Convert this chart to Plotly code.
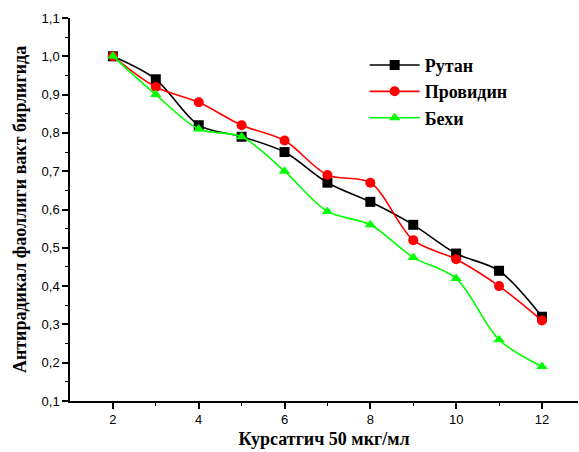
import plotly.graph_objects as go

x_vals = [2, 3, 4, 5, 6, 7, 8, 9, 10, 11, 12]
rutan = [1.0, 0.94, 0.82, 0.79, 0.75, 0.67, 0.62, 0.56, 0.485, 0.44, 0.32]
providin = [1.0, 0.92, 0.88, 0.82, 0.78, 0.69, 0.67, 0.52, 0.47, 0.40, 0.31]
behi = [1.0, 0.90, 0.81, 0.79, 0.70, 0.595, 0.56, 0.475, 0.42, 0.26, 0.19]
names = ["Рутан", "Провидин", "Бехи"]
colors = ["#000000", "#ff0000", "#00ff00"]
symbols = ["square", "circle", "triangle-up"]

fig = go.Figure()
for name, ys, c, s in zip(names, [rutan, providin, behi], colors, symbols):
    fig.add_trace(go.Scatter(
        x=x_vals, y=ys, name="<b>" + name + "</b>", mode="lines+markers",
        line=dict(color=c, width=1.6, shape="spline", smoothing=0.9),
        marker=dict(color=c, symbol=s, size=10),
    ))

fig.update_layout(
    width=579, height=452,
    margin=dict(l=70, r=1, t=18, b=51, autoexpand=False),
    paper_bgcolor="white", plot_bgcolor="white",
    separators=", ",
    showlegend=True,
    legend=dict(x=0.58, y=0.925, xanchor="left", yanchor="top",
                font=dict(family="Liberation Serif", size=18, color="black"),
                bgcolor="rgba(0,0,0,0)", itemwidth=50, tracegroupgap=0),
    font=dict(family="Liberation Sans", size=13, color="black"),
)
fig.update_xaxes(
    range=[1, 12.84], showgrid=False, zeroline=False, automargin=False,
    showline=True, linecolor="black", linewidth=1.5,
    tickmode="array", tickvals=[2, 4, 6, 8, 10, 12],
    ticks="outside", ticklen=6, tickwidth=1.5, tickcolor="black",
    minor=dict(tickvals=[3, 5, 7, 9, 11], ticks="outside", ticklen=3, tickwidth=1, tickcolor="black"),
    tickfont=dict(family="Liberation Sans", size=13),
    title=dict(text="<b>Курсатгич 50 мкг/мл</b>",
               font=dict(family="Liberation Serif", size=18), standoff=6),
)
fig.update_yaxes(
    range=[0.1, 1.1], showgrid=False, zeroline=False, automargin=False,
    showline=True, linecolor="black", linewidth=1.5,
    tickmode="array", tickvals=[0.1, 0.2, 0.3, 0.4, 0.5, 0.6, 0.7, 0.8, 0.9, 1.0, 1.1],
    ticktext=["0,1", "0,2", "0,3", "0,4", "0,5", "0,6", "0,7", "0,8", "0,9", "1,0", "1,1"],
    ticks="outside", ticklen=6, tickwidth=1.5, tickcolor="black",
    minor=dict(tickvals=[0.15, 0.25, 0.35, 0.45, 0.55, 0.65, 0.75, 0.85, 0.95, 1.05],
               ticks="outside", ticklen=3, tickwidth=1, tickcolor="black"),
    tickfont=dict(family="Liberation Sans", size=13),
    title=dict(text="<b>Антирадикал фаоллиги вакт бирлигида</b>",
               font=dict(family="Liberation Serif", size=18), standoff=10),
)

fig.write_html("out.html", config={"displayModeBar": False},
               post_script="document.body.style.margin='0';document.body.style.overflow='hidden';")
